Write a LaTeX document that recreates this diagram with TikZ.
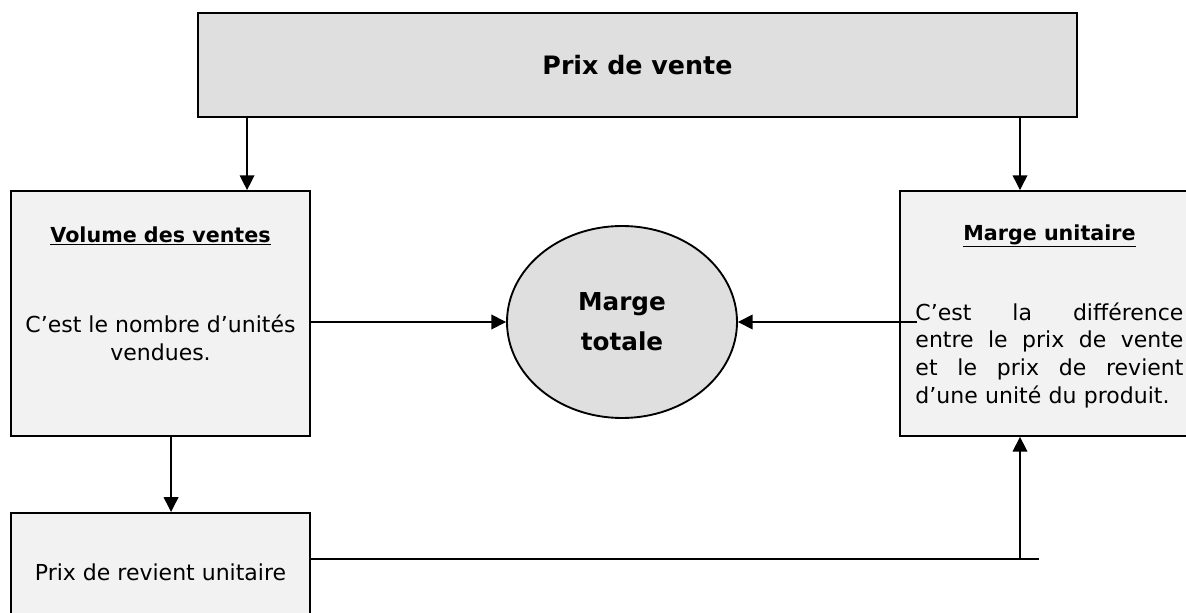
\documentclass[tikz,border=0pt]{standalone}
\usepackage{fontspec}
\setmainfont{DejaVu Sans}
\usetikzlibrary{positioning,arrows.meta,shapes.geometric}
\definecolor{grisfonce}{HTML}{DFDFDF}
\definecolor{grisclair}{HTML}{F2F2F2}

\begin{document}
\begin{tikzpicture}[x=1pt, y=-1pt,
	boite/.style={rectangle, draw=black, line width=1.4pt, fill=grisclair, 
	minimum width=224.25pt, inner sep=0pt},
	titre/.style={font=\fontsize{15.5}{18}\selectfont\bfseries},
	texte/.style={font=\fontsize{16.5}{20.75}\selectfont, align=center},
	fleche/.style={line width=1pt, -{Triangle[length=11pt,width=11pt]}}
	]
	\useasboundingbox (0,0) rectangle (889.5,459.75);
	\node[boite, fill=grisfonce, minimum width=659.25pt, minimum height=78pt, 
	font=\fontsize{19}{22}\selectfont\bfseries] (prix) at (478.1,48.75) {Prix de vente};
	\node[boite, minimum height=183.75pt] (volume) at (120.4,235.1) {};
	\node[boite, minimum height=183.75pt] (unitaire) at (787.1,235.1) {};
	\node[boite, minimum height=88.5pt, font=\fontsize{16.5}{20.75}\selectfont] 
	(revient) [below=56.25pt of volume] {Prix de revient unitaire};
	\node[ellipse, draw=black, line width=1.4pt, fill=grisfonce, minimum width=172.5pt, 
	minimum height=144pt, inner sep=0pt, font=\fontsize{18.5}{30}\selectfont\bfseries, 
	align=center] (marge) at (466.5,241.5) {Marge\\totale};
	
	\node[titre] (vtitre) at ([yshift=-34.5pt]volume.north) {\underline{Volume des ventes}};
	\node[texte] (vtexte) at ([yshift=-111pt]volume.north) {C'est le nombre d'unités\\vendues.};
	\node[titre] (utitre) at ([yshift=-34.5pt]unitaire.north) {\underline{Marge unitaire}};
	\node[texte, text width=201pt, align=left] (utexte) at ([yshift=-123.75pt]unitaire.north) 
	{\makebox[201pt]{C'est\hfill la\hfill différence}\\
	\makebox[201pt]{entre\hfill le\hfill prix\hfill de\hfill vente}\\
	\makebox[201pt]{et\hfill le\hfill prix\hfill de\hfill revient}\\
	d'une unité du produit.};
	
	\coordinate (g1) at ([xshift=64.9pt]volume.north);
	\coordinate (d1) at ([xshift=-22.1pt]unitaire.north);
	\coordinate (d2) at ([xshift=13.5pt]unitaire.west);
	\coordinate (r1) at ([yshift=9.75pt]revient.east);
	\coordinate (coude) at (d1 |- r1);
	\coordinate (r2) at ([xshift=14.25pt]coude);
	
	\draw[fleche] (g1 |- prix.south) to (g1);
	\draw[fleche] (d1 |- prix.south) to (d1);
	\draw[fleche] (marge.west -| volume.east) to (marge.west);
	\draw[fleche] (d2 |- marge.east) to (marge.east);
	\draw[fleche] ([xshift=7.9pt]volume.south) to ([xshift=7.9pt]revient.north);
	\draw[line width=1pt] (r1) to (r2);
	\draw[fleche] (coude) to (coude |- unitaire.south);
\end{tikzpicture}
\end{document}
